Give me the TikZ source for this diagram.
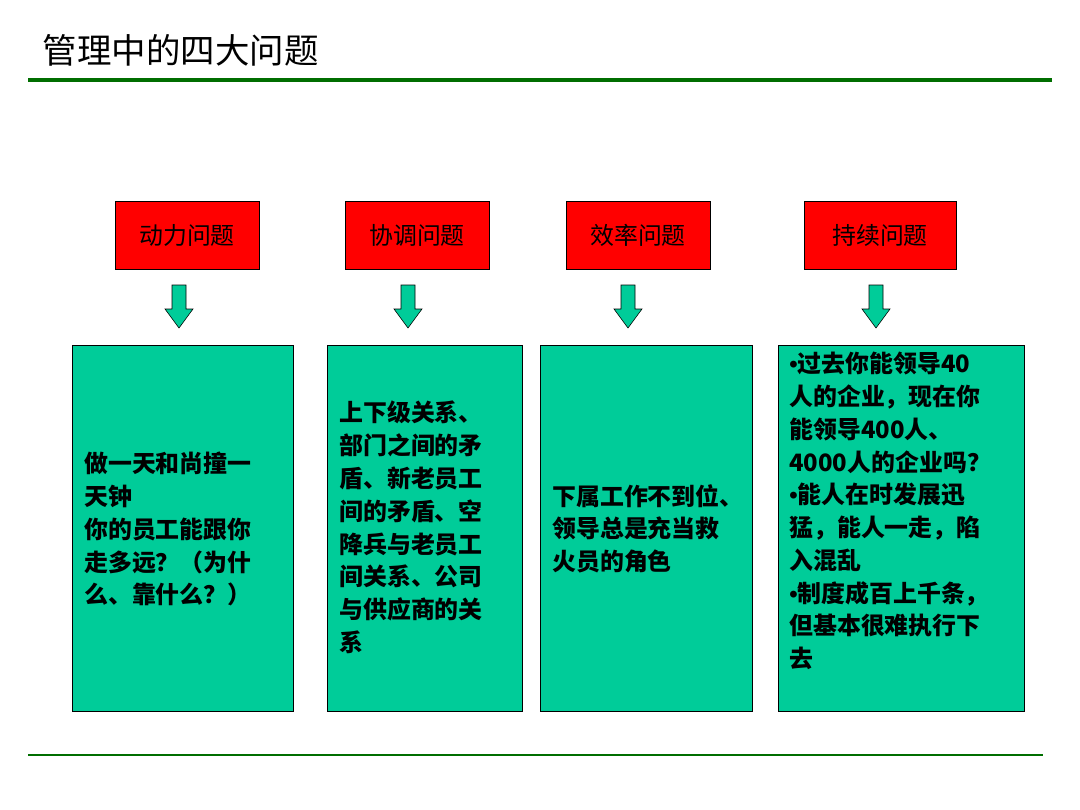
\documentclass[tikz,border=0pt]{standalone}
\usepackage{fontspec}
\setmainfont{Noto Sans CJK SC}
\newfontfamily\latinfont{Liberation Sans}
\definecolor{linegreen}{RGB}{0,110,0}
\definecolor{boxgreen}{RGB}{0,204,153}
\newcommand{\pt}{{\latinfont\textbullet}}
\newcommand{\downarrowat}[1]{\draw[downarrow] (#1) ++(-7,-21) -- ++(14,0) -- ++(0,24) -- ++(7,0) -- ++(-14,19) -- ++(-14,-19) -- ++(7,0) -- cycle;}
\begin{document}
\begin{tikzpicture}
[x=0.025cm,y=-0.025cm,
topic/.style={draw=black,fill=red,minimum width=3.6cm,minimum height=1.7cm,inner sep=0pt,font=\fontsize{17}{20}\selectfont},
panel/.style={draw=black,fill=boxgreen},
body/.style={anchor=north west,align=left,inner sep=0pt,font=\fontsize{17}{23.3}\selectfont\bfseries},
downarrow/.style={draw=black,fill=boxgreen,line join=miter},
]
\useasboundingbox[fill=white] (0,0) rectangle (1080,810);

% title and rules
\node[anchor=west,font=\fontsize{24.5}{28}\selectfont] (title) at (38,50) {管理中的四大问题};
\draw[linegreen,line width=2.5pt] (28,80) -- (1052,80);
\draw[linegreen,line width=1.2pt] (28,755) -- (1043,755);

% headings
\node[topic] (t1) at (187,235) {动力问题};
\node[topic] (t2) at (417,235) {协调问题};
\node[topic] (t3) at (638,235) {效率问题};
\node[topic,minimum width=3.8cm] (t4) at (880,235) {持续问题};

% arrows
\coordinate (a1) at (179,306);
\coordinate (a2) at (408,306);
\coordinate (a3) at (628,306);
\coordinate (a4) at (876,306);
\foreach \a in {a1,a2,a3,a4}{\downarrowat{\a}}

% panels
\draw[panel] (72,345) rectangle (293,711);
\draw[panel] (327,345) rectangle (522,711);
\draw[panel] (540,345) rectangle (752,711);
\draw[panel] (778,345) rectangle (1024,711);

\node[body] (b1) at (84,452) {做一天和尚撞一\\天钟\\你的员工能跟你\\走多远？（为什\\么、靠什么？）};
\node[body] (b2) at (339,401) {上下级关系、\\部门之间的矛\\盾、新老员工\\间的矛盾、空\\降兵与老员工\\间关系、公司\\与供应商的关\\系};
\node[body] (b3) at (552,484) {下属工作不到位、\\领导总是充当救\\火员的角色};
\node[body] (b4) at (789,352) {\pt 过去你能领导40\\人的企业，现在你\\能领导400人、\\4000人的企业吗？\\\pt 能人在时发展迅\\猛，能人一走，陷\\入混乱\\\pt 制度成百上千条，\\但基本很难执行下\\去};
\end{tikzpicture}
\end{document}
